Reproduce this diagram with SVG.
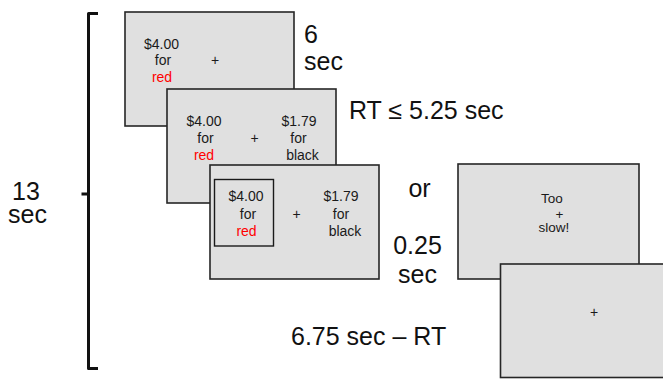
<svg xmlns="http://www.w3.org/2000/svg" width="663" height="380" viewBox="0 0 663 380">
  <style>
    .screen { fill: #e0e0e0; stroke: #262626; stroke-width: 1.6; }
    .inner { fill: none; stroke: #1a1a1a; stroke-width: 1.4; }
    .small { font-family: "Liberation Sans", Arial, sans-serif; font-size: 14px; fill: #1a1a1a; text-anchor: middle; }
    .tiny { font-size: 13.5px; }
    .red { fill: #ff0000; }
    .big { font-family: "Liberation Sans", Arial, sans-serif; font-size: 25px; fill: #111; }
    .mid { text-anchor: middle; }
    .bracket { fill: none; stroke: #111; stroke-width: 3; stroke-linejoin: round; stroke-linecap: butt; }
  </style>

  <!-- timing bracket spanning the whole trial -->
  <g id="trial-bracket">
    <path class="bracket" d="M98,13.5 H88.5 V368.5 H98 M88.5,194 H81.5"/>
    <text class="big" x="12" y="200">13</text>
    <text class="big" x="8" y="223">sec</text>
  </g>

  <!-- screen 1: option on the left only -->
  <g id="screen-1">
    <rect class="screen" x="125" y="12" width="169" height="114"/>
    <text class="small" x="161.5" y="48.5">$4.00</text>
    <text class="small" x="163" y="65">for</text>
    <text class="small red" x="162" y="82">red</text>
    <text class="small" x="215" y="65">+</text>
  </g>
  <g id="label-6sec">
    <text class="big" x="304" y="43">6</text>
    <text class="big" x="304" y="70">sec</text>
  </g>

  <!-- screen 2: both options shown -->
  <g id="screen-2">
    <rect class="screen" x="167" y="89" width="169" height="114"/>
    <text class="small" x="204" y="126">$4.00</text>
    <text class="small" x="205.5" y="143">for</text>
    <text class="small red" x="204" y="160">red</text>
    <text class="small" x="254.5" y="143">+</text>
    <text class="small" x="299" y="126">$1.79</text>
    <text class="small" x="298.5" y="143">for</text>
    <text class="small" x="302.5" y="160">black</text>
  </g>
  <g id="label-rt">
    <text class="big" x="349" y="119">RT ≤ 5.25 sec</text>
  </g>

  <!-- screen 3: chosen option boxed -->
  <g id="screen-3">
    <rect class="screen" x="210" y="165" width="169" height="114"/>
    <rect class="inner" x="214.5" y="179.5" width="59" height="66.5"/>
    <text class="small" x="246" y="201">$4.00</text>
    <text class="small" x="248" y="218.5">for</text>
    <text class="small red" x="246.5" y="236">red</text>
    <text class="small" x="296.5" y="218.5">+</text>
    <text class="small" x="341" y="201">$1.79</text>
    <text class="small" x="341" y="218.5">for</text>
    <text class="small" x="345" y="236">black</text>
  </g>

  <g id="label-or">
    <text class="big mid" x="419.5" y="197">or</text>
  </g>
  <g id="label-feedback">
    <text class="big mid" x="417.5" y="254">0.25</text>
    <text class="big mid" x="417.5" y="283">sec</text>
  </g>

  <!-- timeout feedback screen -->
  <g id="screen-too-slow">
    <rect class="screen" x="458" y="164" width="181" height="115"/>
    <text class="small tiny" x="552" y="203">Too</text>
    <text class="small tiny" x="559.5" y="218.5">+</text>
    <text class="small tiny" x="554" y="231.5">slow!</text>
  </g>

  <!-- inter-trial fixation screen -->
  <g id="screen-iti">
    <rect class="screen" x="500.5" y="264" width="170" height="113.5"/>
    <text class="small" x="594" y="317">+</text>
  </g>
  <g id="label-iti">
    <text class="big" x="291" y="345">6.75 sec – RT</text>
  </g>
</svg>
